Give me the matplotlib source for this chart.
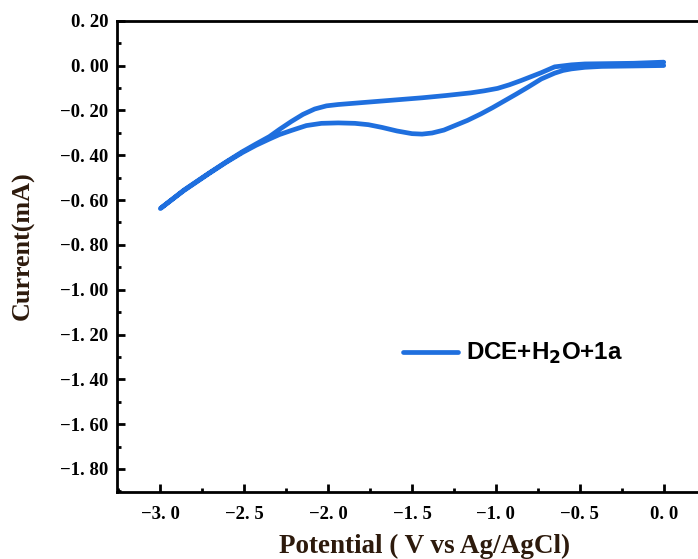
import numpy as np
import matplotlib
matplotlib.use("Agg")
import matplotlib.pyplot as plt
from matplotlib.ticker import MultipleLocator

# cathodic sweep 0 -> -3.0 V, then back to 0
potential = [0.0, -0.18, -0.37, -0.47, -0.55, -0.60, -0.65, -0.73, -0.81, -0.88, -0.95,
             -1.02, -1.09, -1.17, -1.245, -1.31, -1.38, -1.44, -1.50, -1.59, -1.68,
             -1.76, -1.84, -1.94, -2.04, -2.13, -2.22, -2.29, -2.35, -2.43, -2.51,
             -2.61, -2.71, -2.86, -3.0,
             -2.86, -2.71, -2.61, -2.51, -2.43, -2.35, -2.29, -2.22, -2.15, -2.08,
             -2.01, -1.94, -1.84, -1.64, -1.44, -1.30, -1.15, -1.07, -0.99, -0.92,
             -0.85, -0.73, -0.65, -0.55, -0.47, -0.18, 0.0]
current = [0.0, -0.002, -0.004, -0.008, -0.015, -0.022, -0.034, -0.06, -0.097, -0.128, -0.158,
           -0.188, -0.216, -0.245, -0.268, -0.288, -0.301, -0.306, -0.304, -0.292, -0.276,
           -0.264, -0.258, -0.256, -0.258, -0.268, -0.290, -0.308, -0.328, -0.356, -0.388,
           -0.433, -0.482, -0.558, -0.638,
           -0.556, -0.480, -0.431, -0.384, -0.350, -0.317, -0.285, -0.250, -0.218, -0.194,
           -0.180, -0.174, -0.168, -0.156, -0.144, -0.134, -0.122, -0.113, -0.102, -0.086,
           -0.067, -0.032, -0.006, 0.003, 0.007, 0.010, 0.015]

xticks = [-3.0, -2.5, -2.0, -1.5, -1.0, -0.5, 0.0]
xlabels = ["\u22123. 0", "\u22122. 5", "\u22122. 0", "\u22121. 5", "\u22121. 0", "\u22120. 5", "0. 0"]
yticks = [0.2, 0.0, -0.2, -0.4, -0.6, -0.8, -1.0, -1.2, -1.4, -1.6, -1.8]
ylabels = ["0. 20", "0. 00", "\u22120. 20", "\u22120. 40", "\u22120. 60", "\u22120. 80",
           "\u22121. 00", "\u22121. 20", "\u22121. 40", "\u22121. 60", "\u22121. 80"]

blue = "#1f6fde"
label_color = "#2d1a0c"

fig = plt.figure(figsize=(6.98, 5.59), dpi=100)
ax = fig.add_axes([0.1672, 0.1193, 0.8438, 0.8437])

ax.plot(potential, current, color=blue, lw=3.4, solid_joinstyle="round",
        solid_capstyle="round", label="DCE+H$_\\mathbf{2}$O+1a")

ax.set_xlim(-3.26, 0.25)
ax.set_ylim(-1.904, 0.2)

for s in ["left", "bottom", "top", "right"]:
    ax.spines[s].set_linewidth(2.0)

ax.set_xticks(xticks)
ax.set_xticklabels(xlabels)
ax.set_yticks(yticks)
ax.set_yticklabels(ylabels)
ax.xaxis.set_minor_locator(MultipleLocator(0.25))
ax.yaxis.set_minor_locator(MultipleLocator(0.1))
ax.tick_params(which="major", direction="in", length=6, width=2.0, top=False, right=False)
ax.tick_params(which="minor", direction="in", length=3, width=2.0, top=False, right=False)
ax.tick_params(axis="x", pad=10)
ax.tick_params(axis="y", pad=6)
for lab in ax.get_xticklabels() + ax.get_yticklabels():
    lab.set_fontfamily("Liberation Serif")
    lab.set_fontweight("bold")
    lab.set_fontsize(13.5)

ax.set_xlabel("Potential ( V vs Ag/AgCl)", fontfamily="Liberation Serif",
              fontweight="bold", fontsize=19.5, color=label_color)
ax.set_ylabel("Current(mA)", fontfamily="Liberation Serif",
              fontweight="bold", fontsize=18.8, color=label_color)
ax.xaxis.set_label_coords(0.522, -0.088)
ax.yaxis.set_label_coords(-0.139, 0.522)

leg = ax.legend(loc="center left", bbox_to_anchor=(0.45, 0.294), frameon=False,
                handlelength=2.25, handletextpad=0.33,
                prop={"family": "Liberation Sans", "weight": "bold", "size": 17.4})

fig.savefig("out.png", dpi=100)
